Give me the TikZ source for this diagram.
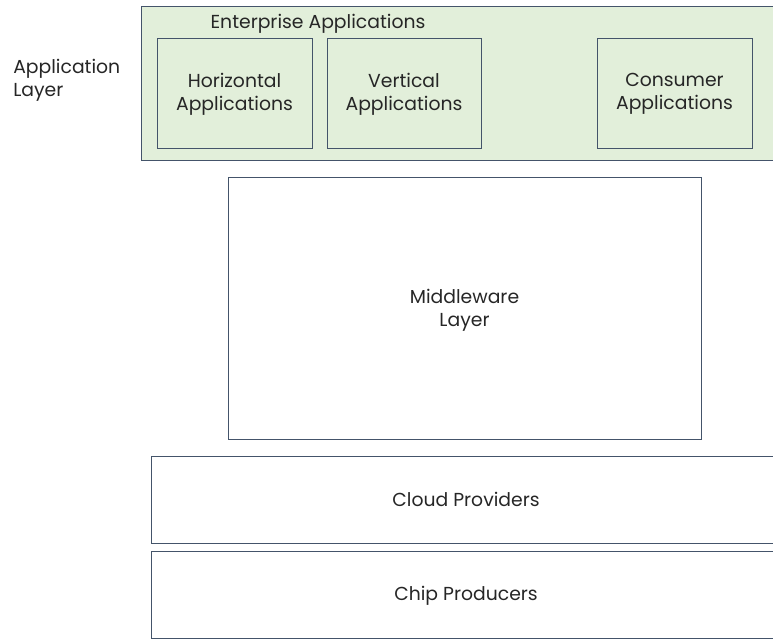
\documentclass[tikz,border=0pt]{standalone}
\usepackage{fontspec}
\setmainfont{Poppins}
\definecolor{edge}{HTML}{44546A}
\definecolor{appgreen}{HTML}{E2EFDA}
\begin{document}
\begin{tikzpicture}[x=0.75pt,y=-0.75pt,
  txt/.style={font=\fontsize{14.1}{17.25}\selectfont,text=black!85,align=center,inner sep=0pt},
  layerbox/.style={draw=edge,line width=0.75pt},
  appbox/.style={draw=edge,line width=0.75pt,fill=appgreen}]
\useasboundingbox (0,0) rectangle (773,639);
% application layer band (runs off the right edge)
\draw[appbox] (780,6) -- (141,6) -- (141,160) -- (780,160);
\node[txt,anchor=center] (ent) at (318,24) {Enterprise Applications};
\node[txt,anchor=west,align=left] (applayer) at (13,80) {Application\\Layer};
\draw[layerbox] (157,38) rectangle (312,148);
\node[txt] (hor) at (234.5,94) {Horizontal\\Applications};
\draw[layerbox] (327,38) rectangle (481,148);
\node[txt] (ver) at (404,94) {Vertical\\Applications};
\draw[layerbox] (597,38) rectangle (752,148);
\node[txt] (con) at (674.5,94) {Consumer\\Applications};
% middleware
\draw[layerbox] (228,177) rectangle (701,439);
\node[txt] (mid) at (464.5,310) {Middleware\\Layer};
% infrastructure layers
\draw[layerbox] (780,456) -- (151,456) -- (151,543) -- (780,543);
\node[txt] (cloud) at (466,499) {Cloud Providers};
\draw[layerbox] (780,551) -- (151,551) -- (151,638) -- (780,638);
\node[txt] (chip) at (466,596) {Chip Producers};
\end{tikzpicture}
\end{document}
